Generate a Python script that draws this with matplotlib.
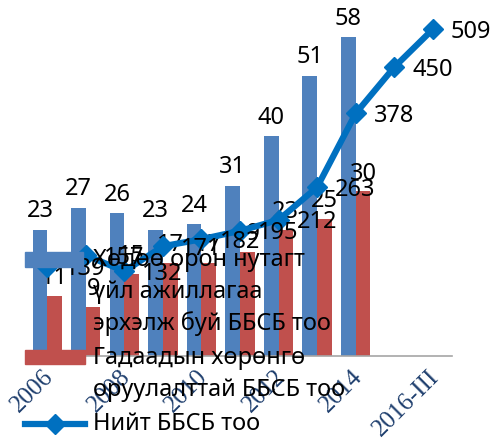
import matplotlib
matplotlib.use('Agg')
import matplotlib.pyplot as plt
import matplotlib.transforms as mtrans
from matplotlib.patches import Rectangle
from matplotlib.lines import Line2D
import numpy as np

# data
categories = ['2006', '2007', '2008', '2009', '2010', '2011', '2012', '2013', '2014', '2015', '2016-III']
rural = [23, 27, 26, 23, 24, 31, 40, 51, 58]
foreign = [11, 9, 15, 17, 17, 19, 23, 25, 30]
total = [139, 157, 132, 171, 182, 195, 212, 263, 378, 450, 509]

name_rural = ['Хөдөө орон нутагт', 'үйл ажиллагаа', 'эрхэлж буй ББСБ тоо']
name_foreign = ['Гадаадын хөрөнгө', 'оруулалттай ББСБ тоо']
name_total = 'Нийт ББСБ тоо'

c_blue = '#4F81BD'
c_red = '#C0504D'
c_line = '#0070C0'
lbl_font = 'Noto Sans'
fs = 17

W, H = 493, 439
fig = plt.figure(figsize=(W/100, H/100), dpi=100)

def fx(x):
    return x / W

def fy(y):
    return 1 - y / H

# plot area runs past the top edge, like the cropped original
ax = fig.add_axes([fx(28), fy(357), fx(424), 385 / H])
ax2 = ax.twinx()

x = np.arange(len(categories))
nb = len(rural)
bw = 0.38
ax.bar(x[:nb] - bw/2, rural, bw, color=c_blue, zorder=2)
ax.bar(x[:nb] + bw/2, foreign, bw, color=c_red, zorder=2)
ax.set_xlim(-0.5, len(categories) - 0.5)
ax.set_ylim(0, 70)
ax2.set_ylim(0, 600)

ax2.plot(x, total, color=c_line, lw=4.5, marker='D', markersize=10, zorder=3)

for i in range(nb):
    ax.annotate(str(rural[i]), (x[i] - bw/2, rural[i]), xytext=(0, 14),
                textcoords='offset points', ha='center', va='center',
                fontsize=fs, family=lbl_font, zorder=5)
    ax.annotate(str(foreign[i]), (x[i] + bw/2, foreign[i]), xytext=(0, 13),
                textcoords='offset points', ha='center', va='center',
                fontsize=fs, family=lbl_font, zorder=5)
for i in range(len(total)):
    ax2.annotate(str(total[i]), (x[i], total[i]), xytext=(13, -1),
                 textcoords='offset points', ha='left', va='center',
                 fontsize=fs, family=lbl_font, zorder=5)

for a in [ax, ax2]:
    for s in ['left', 'right', 'top']:
        a.spines[s].set_visible(False)
    a.set_yticks([])
ax2.spines['bottom'].set_visible(False)
ax.spines['bottom'].set_color('#A6A6A6')
ax.spines['bottom'].set_linewidth(1.2)

ax.set_xticks(x[::2])
ax.set_xticklabels(categories[::2], rotation=45, ha='right', va='center',
                   rotation_mode='anchor', family='Liberation Serif',
                   fontsize=18, color='#1F3F6E')
ax.tick_params(axis='x', length=0, pad=12)
off = mtrans.ScaledTranslation(3/100, 0, fig.dpi_scale_trans)
for lbl in ax.get_xticklabels():
    lbl.set_transform(lbl.get_transform() + off)

# legend drawn by hand on top of the plot, as in the original
fig.patches.append(Rectangle((fx(25), fy(268)), fx(58), 15 / H, color=c_blue,
                             transform=fig.transFigure, zorder=10))
for k, t in enumerate(name_rural):
    fig.text(fx(93), fy(260 + 32*k), t, fontsize=fs, family=lbl_font,
             va='center', ha='left', zorder=11)

fig.patches.append(Rectangle((fx(25), fy(365)), fx(60), 14 / H, color=c_red,
                             transform=fig.transFigure, zorder=10))
for k, t in enumerate(name_foreign):
    fig.text(fx(93), fy(358 + 32*k), t, fontsize=fs, family=lbl_font,
             va='center', ha='left', zorder=11)

fig.lines.append(Line2D([fx(25), fx(85)], [fy(425), fy(425)], color=c_line, lw=4.5,
                        transform=fig.transFigure, zorder=10))
fig.lines.append(Line2D([fx(55)], [fy(425)], color=c_line, marker='D', markersize=10,
                        transform=fig.transFigure, zorder=10))
fig.text(fx(93), fy(424), name_total, fontsize=fs, family=lbl_font,
         va='center', ha='left', zorder=11)

fig.savefig('out.png', dpi=100)
